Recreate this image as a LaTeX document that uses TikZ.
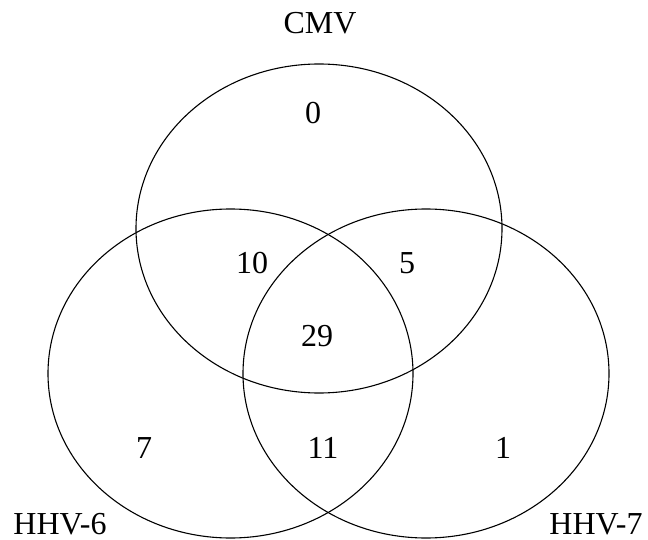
\documentclass[tikz,border=0pt]{standalone}
\usepackage{fontspec}
\setmainfont{Liberation Serif}
\begin{document}
\begin{tikzpicture}[x=1pt,y=-1pt,
  setline/.style={draw=black,line width=1.1pt},
  lbl/.style={anchor=base,inner sep=0pt,font=\fontsize{32}{36}\selectfont}]
\useasboundingbox (0,0) rectangle (648,540);
\draw[setline] (319,228.5) ellipse [x radius=183, y radius=164.5];
\draw[setline] (230.5,373.5) ellipse [x radius=182.5, y radius=164.5];
\draw[setline] (426,373.5) ellipse [x radius=183, y radius=164.5];
\node[lbl] (cmv) at (320,33.3) {CMV};
\node[lbl] (h6) at (60,534) {HHV-6};
\node[lbl] (h7) at (596,534) {HHV-7};
\node[lbl] (n0) at (313,124) {0};
\node[lbl] (n10) at (252,273) {10};
\node[lbl] (n5) at (407,273) {5};
\node[lbl] (n29) at (317,346.7) {29};
\node[lbl] (n7) at (144,458) {7};
\node[lbl] (n11) at (323,458) {11};
\node[lbl] (n1) at (503,458) {1};
\end{tikzpicture}
\end{document}
